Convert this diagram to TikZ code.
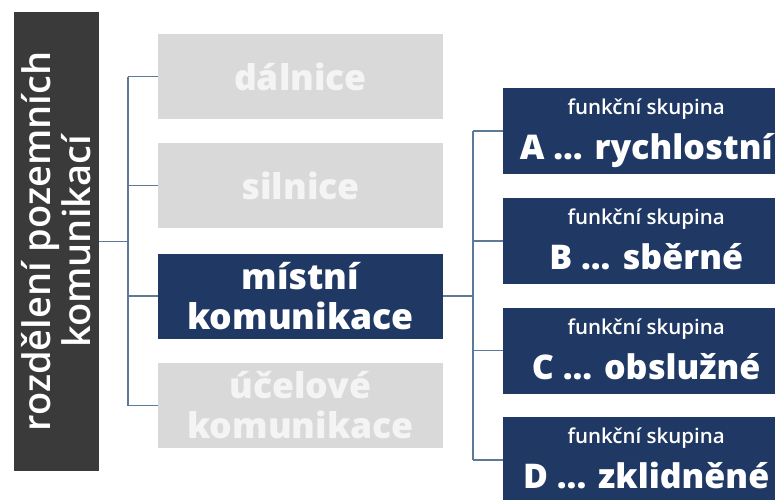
\documentclass[tikz,border=0pt]{standalone}
\usepackage{fontspec}
% heaviest available weight of Open Sans for the bold labels
\def\heavyname{Open Sans Bold}
\IfFontExistsTF{Open Sans Extrabold}{\def\heavyname{Open Sans Extrabold}}{}
\IfFontExistsTF{Open Sans Extra Bold}{\def\heavyname{Open Sans Extra Bold}}{}
\IfFontExistsTF{Open Sans ExtraBold}{\def\heavyname{Open Sans ExtraBold}}{}
\IfFontExistsTF{OpenSans-ExtraBold}{\def\heavyname{OpenSans-ExtraBold}}{}
\setmainfont{Open Sans}[BoldFont=\heavyname]
\IfFontExistsTF{Open Sans SemiBold}
  {\newfontfamily\semifont{Open Sans SemiBold}}
  {\IfFontExistsTF{Open Sans Semibold}
    {\newfontfamily\semifont{Open Sans Semibold}}
    {\newfontfamily\semifont{Open Sans}}}
\usetikzlibrary{calc}
\definecolor{navy}{RGB}{32,56,100}
\definecolor{paleg}{RGB}{217,217,217}
\definecolor{paletext}{RGB}{244,244,244}
\definecolor{charcoal}{RGB}{58,58,58}
\definecolor{linkc}{RGB}{92,122,152}
\newcommand\tridot{...}
\begin{document}
\begin{tikzpicture}[x=1pt,y=-1pt,
  kind/.style={rectangle, inner sep=0pt, minimum width=285pt, minimum height=85pt,
    align=center, font=\bfseries\fontsize{35.5}{40}\selectfont},
  off/.style={kind, fill=paleg, text=paletext},
  on/.style={kind, fill=navy, text=white},
  grp/.style={rectangle, inner sep=0pt, minimum width=286pt, minimum height=86pt,
    fill=navy, anchor=west},
  sub/.style={anchor=base, inner sep=0pt, text=white, font=\semifont\fontsize{20.5}{20.5}\selectfont},
  big/.style={anchor=base, inner sep=0pt, text=white, font=\bfseries\fontsize{34}{34}\selectfont},
  link/.style={draw=linkc, line width=1.3pt}]
\useasboundingbox (0,0) rectangle (775,499);
\clip (0,0) rectangle (775,499);

% root of the classification (rotated, so width runs vertically)
\node[rectangle, inner sep=0pt, minimum width=459pt, minimum height=85pt,
  fill=charcoal, text=white, align=center, rotate=90,
  font=\semifont\fontsize{38}{40}\selectfont] (root) at (56.5,241.5)
  {rozdělení pozemních\\komunikací};

% road categories
\node[off] (g1) at (300.5,76.5) {dálnice};
\node[off] (g2) at (300.5,185.5) {silnice};
\node[on]  (g3) at (300.5,296) {místní\\komunikace};
\node[off] (g4) at (300.5,405.5) {účelové\\komunikace};

% functional groups of local roads
\node[grp] (f1) at (503,131) {};
\node[grp] (f2) at (503,241) {};
\node[grp] (f3) at (503,350.5) {};
\node[grp] (f4) at (503,460) {};
\foreach \b/\t in {f1/{A \tridot{} rychlostní}, f2/{B \tridot{} sběrné},
                   f3/{C \tridot{} obslužné}, f4/{D \tridot{} zklidněné}}{
  \node[sub] at ($(\b.north)+(0,27)$) {funkční skupina};
  \node[big] at ($(\b.north)+(0,72)$) {\t};
}

% connectors, left tree
\coordinate (j1) at (128,241.5);
\draw[link] (root.south) -- (j1);
\draw[link] (j1 |- g1.west) -- (j1 |- g4.west);
\foreach \g in {g1,g2,g3,g4} \draw[link] (j1 |- \g.west) -- (\g.west);

% connectors, right tree
\coordinate (j2) at (473,296);
\draw[link] (g3.east) -- (j2);
\draw[link] (j2 |- f1.west) -- (j2 |- f4.west);
\foreach \f in {f1,f2,f3,f4} \draw[link] (j2 |- \f.west) -- (\f.west);
\end{tikzpicture}
\end{document}
